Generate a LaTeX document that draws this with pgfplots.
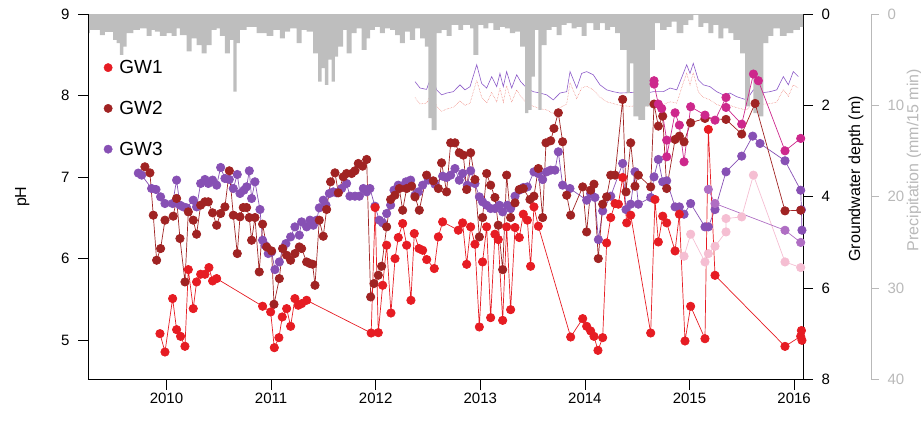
\documentclass[border=0pt]{standalone}
\usepackage{fontspec}
\setmainfont{Liberation Sans}
\usepackage{pgfplots}
\pgfplotsset{compat=1.18}
\definecolor{gwone}{RGB}{230,28,35}
\definecolor{gwtwo}{RGB}{160,35,35}
\definecolor{gwthree}{RGB}{135,80,180}
\definecolor{gwmag}{RGB}{205,40,140}
\definecolor{gwpink}{RGB}{245,190,210}
\definecolor{gworchid}{RGB}{175,110,195}
\definecolor{precbar}{RGB}{190,190,190}
\definecolor{precax}{RGB}{185,185,185}
\definecolor{depthpurple}{RGB}{140,90,200}
\definecolor{depthred}{RGB}{235,110,100}
\pgfplotsset{
  base/.style={at={(88pt,44.5pt)}, anchor=south west, scale only axis,
    width=715pt, height=365.5pt, xmin=2009.25, xmax=2016.085,
    /pgf/number format/assume math mode=true,
    tick label style={font=\fontsize{15}{18}\selectfont},
    label style={font=\fontsize{16}{19}\selectfont},
    tick align=outside, major tick length=10pt,
    tick style={black, line width=0.6pt},
    axis line style={-, line width=0.6pt}},
  ser/.style={mark=*, mark size=4.2pt, line width=0.7pt, color=#1, mark options={solid, fill=#1, draw=#1}},
}
\begin{document}
\begin{tikzpicture}
\path[use as bounding box] (0,0) rectangle (921pt,424pt);
% groundwater depth axis
\begin{axis}[base, ymin=0, ymax=8, y dir=reverse, axis y line*=right, hide x axis,
  ytick={0,2,4,6,8}, yticklabel style={xshift=5pt}, ylabel={Groundwater depth (m)},
  ylabel style={at={(axis description cs:1.074,0.549)}, anchor=center}]
\addplot[depthred, line width=0.5pt, densely dotted] table {
2012.376 1.83
2012.424 1.97
2012.487 1.95
2012.535 1.72
2012.583 2.02
2012.631 2.13
2012.679 2.08
2012.742 2.04
2012.806 1.90
2012.854 2.00
2012.902 1.95
2012.966 1.45
2013.013 1.82
2013.061 1.95
2013.109 1.72
2013.157 1.92
2013.188 1.62
2013.220 1.93
2013.252 1.57
2013.300 1.93
2013.348 1.66
2013.386 1.80
2013.443 1.95
2013.507 2.02
2013.571 2.07
2013.635 2.10
2013.698 2.18
2013.762 2.05
2013.826 1.97
2013.858 1.50
2013.922 1.85
2013.969 1.62
2014.017 1.58
2014.080 1.66
2014.144 1.82
2014.208 1.92
2014.271 1.96
2014.336 2.00
2014.431 2.02
2014.527 2.00
2014.591 2.02
2014.654 1.98
2014.750 1.98
2014.814 1.92
2014.878 1.95
2014.941 1.50
2014.973 1.30
2015.005 1.55
2015.036 1.28
2015.084 1.70
2015.132 1.82
2015.196 1.88
2015.260 1.98
2015.323 2.03
2015.387 2.00
2015.451 2.05
2015.547 2.10
2015.610 1.92
2015.674 1.98
2015.770 1.96
2015.834 1.93
2015.897 1.65
2015.945 1.80
2015.992 1.55
2016.040 1.62
};
\addplot[depthpurple, line width=0.6pt] table {
2012.376 1.48
2012.424 1.62
2012.487 1.65
2012.535 1.33
2012.583 1.66
2012.631 1.77
2012.679 1.73
2012.742 1.70
2012.806 1.55
2012.854 1.66
2012.902 1.59
2012.966 1.11
2013.013 1.52
2013.061 1.62
2013.109 1.37
2013.157 1.59
2013.188 1.30
2013.220 1.59
2013.252 1.26
2013.300 1.62
2013.348 1.33
2013.386 1.48
2013.443 1.62
2013.507 1.70
2013.571 1.73
2013.635 1.77
2013.698 1.88
2013.762 1.73
2013.826 1.70
2013.858 1.26
2013.922 1.62
2013.969 1.30
2014.017 1.26
2014.080 1.33
2014.144 1.55
2014.208 1.66
2014.271 1.70
2014.336 1.73
2014.431 1.72
2014.527 1.70
2014.591 1.73
2014.654 1.70
2014.750 1.70
2014.814 1.62
2014.878 1.66
2014.941 1.30
2014.973 1.11
2015.005 1.30
2015.036 1.08
2015.084 1.44
2015.132 1.55
2015.196 1.59
2015.260 1.70
2015.323 1.77
2015.387 1.73
2015.451 1.81
2015.547 1.88
2015.610 1.66
2015.674 1.73
2015.770 1.70
2015.834 1.66
2015.897 1.37
2015.945 1.55
2015.992 1.26
2016.040 1.37
};
\end{axis}
% precipitation bars
\begin{axis}[base, ymin=0, ymax=40, y dir=reverse, hide axis]
\addplot[const plot, fill=precbar, draw=none] table {
2009.250 2.1
2009.269 1.75
2009.364 2.3
2009.412 1.95
2009.491 2.84
2009.524 3.2
2009.555 4.48
2009.587 3.57
2009.620 2.1
2009.683 1.75
2009.747 1.57
2009.811 2.4
2009.859 1.75
2009.890 1.93
2009.938 2.4
2010.002 2.1
2010.050 2.4
2010.098 1.57
2010.129 2.3
2010.193 4.1
2010.241 2.66
2010.289 3.4
2010.337 4.3
2010.384 3.4
2010.432 1.75
2010.480 1.57
2010.511 2.4
2010.559 4.3
2010.607 2.84
2010.639 8.5
2010.671 3.2
2010.703 1.75
2010.767 1.4
2010.862 2.1
2010.958 2.4
2011.021 1.75
2011.085 2.66
2011.133 1.93
2011.181 1.57
2011.245 3.2
2011.293 1.75
2011.340 1.93
2011.403 4.3
2011.451 7.4
2011.484 5.93
2011.515 7.76
2011.547 5.0
2011.579 7.4
2011.611 4.66
2011.642 3.57
2011.690 1.75
2011.723 4.3
2011.771 2.1
2011.818 1.57
2011.866 3.93
2011.914 2.66
2011.946 1.75
2011.993 1.4
2012.041 2.1
2012.089 1.57
2012.137 1.75
2012.185 2.3
2012.232 3.2
2012.280 1.93
2012.328 2.84
2012.376 1.57
2012.424 2.66
2012.471 3.57
2012.503 11.4
2012.535 12.7
2012.583 2.1
2012.631 1.75
2012.679 2.4
2012.727 1.2
2012.790 1.75
2012.837 1.2
2012.902 1.57
2012.933 4.48
2012.981 1.2
2013.029 1.57
2013.077 1.0
2013.124 1.75
2013.188 1.4
2013.236 1.57
2013.284 2.1
2013.332 1.93
2013.380 3.57
2013.428 10.85
2013.459 10.5
2013.491 6.85
2013.523 1.75
2013.555 10.5
2013.587 3.4
2013.635 1.75
2013.683 1.4
2013.730 2.3
2013.778 1.2
2013.826 1.0
2013.874 1.57
2013.922 1.4
2013.969 2.4
2014.017 1.0
2014.080 1.75
2014.144 1.0
2014.192 1.75
2014.240 1.4
2014.288 2.1
2014.336 3.93
2014.400 8.67
2014.431 5.4
2014.463 11.2
2014.511 11.6
2014.575 10.1
2014.622 3.93
2014.670 1.0
2014.718 1.75
2014.782 1.4
2014.830 0.84
2014.878 2.1
2014.941 1.2
2014.989 0.66
2015.036 0.1
2015.084 1.4
2015.132 1.0
2015.180 2.1
2015.228 1.2
2015.275 2.66
2015.323 1.57
2015.371 2.1
2015.419 2.84
2015.483 4.3
2015.531 10.1
2015.578 6.85
2015.610 10.85
2015.658 11.2
2015.706 3.2
2015.753 2.4
2015.801 1.57
2015.865 2.4
2015.929 2.1
2015.992 1.75
2016.056 1.4
2016.085 1.4
} \closedcycle;
\end{axis}
% precipitation scale
\begin{axis}[base, at={(863pt,44.5pt)}, width=8pt, xmin=0, xmax=1, ymin=0, ymax=40, y dir=reverse,
  axis y line*=right, hide x axis, ytick={0,10,20,30,40}, major tick length=8pt,
  y axis line style={precax}, ytick style={precax},
  yticklabel style={text=precax, xshift=5pt},
  ylabel={Precipitation (mm/15 min)}, ylabel style={text=precax, at={(axis description cs:6.4,0.60)}, anchor=center}]
\end{axis}
% pH axis
\begin{axis}[base, ymin=4.52, ymax=9, axis x line*=bottom, axis y line*=left,
  xtick={2010,2011,2012,2013,2014,2015,2016},
  xticklabels={2010,2011,2012,2013,2014,2015,2016},
  ytick={5,6,7,8,9}, yticklabel style={xshift=-5pt}, ylabel={pH},
  ylabel style={at={(axis description cs:-0.092,0.5)}, anchor=center},
  legend style={at={(axis description cs:0.022,0.8795)}, anchor=north west, draw=none, fill=none,
    font=\fontsize{19}{22}\selectfont, row sep=22pt, inner sep=0pt,
    /tikz/every odd column/.append style={column sep=5pt}},
  legend cell align=left]
\addlegendimage{only marks, mark=*, mark size=4.2pt, gwone}
\addlegendentry{GW1}
\addlegendimage{only marks, mark=*, mark size=4.2pt, gwtwo}
\addlegendentry{GW2}
\addlegendimage{only marks, mark=*, mark size=4.2pt, gwthree}
\addlegendentry{GW3}
\addplot[ser=gwthree] table {
2009.731 7.050
2009.763 7.025
2009.858 6.861
2009.900 6.849
2009.944 6.759
2009.986 6.677
2010.059 6.677
2010.097 6.964
2010.129 6.657
2010.161 6.636
2010.193 6.624
2010.256 6.718
2010.288 6.636
2010.327 6.923
2010.368 6.972
2010.400 6.923
2010.441 6.964
2010.480 6.902
2010.518 7.119
2010.559 6.984
2010.601 6.972
2010.639 6.861
2010.677 7.033
2010.703 6.800
2010.741 6.841
2010.766 6.882
2010.792 7.078
2010.814 6.739
2010.846 6.943
2010.894 6.604
2010.919 6.227
2010.942 6.166
2010.973 6.064
2011.005 6.084
2011.037 5.867
2011.079 5.961
2011.111 6.125
2011.142 6.186
2011.187 6.268
2011.228 6.391
2011.270 6.289
2011.292 6.452
2011.340 6.391
2011.372 6.473
2011.404 6.411
2011.436 6.473
2011.461 6.624
2011.499 6.718
2011.525 6.657
2011.557 6.800
2011.595 6.820
2011.627 6.808
2011.675 6.861
2011.722 6.923
2011.754 6.767
2011.802 6.767
2011.844 6.767
2011.882 6.861
2011.914 6.820
2011.945 6.861
2011.993 6.644
2012.035 6.473
2012.067 6.440
2012.105 6.555
2012.143 6.657
2012.175 6.841
2012.216 6.902
2012.258 6.882
2012.290 6.943
2012.334 6.964
2012.376 6.779
2012.408 6.820
2012.449 6.902
2012.503 6.964
2012.567 6.914
2012.640 7.012
2012.678 6.996
2012.717 7.025
2012.758 7.106
2012.799 6.963
2012.831 7.045
2012.876 6.902
2012.908 7.078
2012.949 6.922
2012.991 6.759
2013.022 6.697
2013.061 6.656
2013.099 6.616
2013.140 6.616
2013.182 6.656
2013.214 6.575
2013.258 6.656
2013.290 6.616
2013.332 6.767
2013.373 6.841
2013.411 6.873
2013.450 6.881
2013.513 7.065
2013.555 7.045
2013.596 6.971
2013.634 7.065
2013.673 7.086
2013.714 7.086
2013.746 7.311
2013.787 6.902
2013.857 6.861
2014.017 6.718
2014.055 6.800
2014.096 6.751
2014.129 6.235
2014.170 6.587
2014.247 6.767
2014.361 7.168
2014.393 6.603
2014.438 6.669
2014.479 7.066
2014.511 6.669
2014.629 6.751
2014.661 7.004
2014.702 7.217
2014.744 6.943
2014.782 6.955
2014.862 6.636
2014.903 6.636
2014.948 6.546
2015.011 6.677
2015.148 6.391
2015.180 6.391
2015.244 6.603
2015.349 7.066
2015.499 7.258
2015.604 7.503
2015.674 7.413
2015.913 7.201
2016.063 6.840
2016.070 6.600
2016.075 6.350
};
\addplot[ser=gwtwo] table {
2009.794 7.127
2009.842 7.053
2009.874 6.534
2009.906 5.982
2009.944 6.125
2009.986 6.473
2010.065 6.522
2010.097 6.739
2010.129 6.248
2010.177 5.716
2010.209 6.575
2010.256 6.473
2010.288 6.301
2010.327 6.657
2010.368 6.698
2010.400 6.698
2010.441 6.563
2010.480 6.411
2010.518 6.555
2010.559 6.636
2010.601 7.078
2010.639 6.534
2010.677 6.064
2010.703 6.514
2010.734 6.628
2010.766 6.628
2010.792 6.505
2010.814 6.227
2010.846 6.505
2010.887 5.839
2010.919 6.424
2010.958 6.145
2011.005 6.096
2011.028 5.442
2011.079 5.757
2011.111 6.125
2011.149 6.043
2011.187 5.982
2011.228 6.064
2011.270 6.145
2011.292 6.125
2011.340 5.961
2011.372 5.941
2011.397 5.933
2011.420 5.675
2011.461 6.473
2011.499 6.276
2011.531 6.604
2011.569 6.943
2011.611 7.053
2011.643 6.808
2011.690 7.004
2011.722 7.045
2011.770 7.045
2011.802 7.078
2011.834 7.168
2011.875 7.135
2011.914 7.217
2011.952 5.532
2011.984 5.696
2012.025 5.798
2012.057 5.908
2012.105 6.391
2012.143 6.726
2012.184 6.779
2012.226 6.861
2012.258 6.595
2012.296 6.861
2012.344 6.890
2012.376 6.759
2012.417 6.595
2012.487 7.025
2012.551 6.955
2012.599 6.861
2012.630 7.176
2012.678 6.820
2012.717 7.421
2012.758 7.421
2012.799 7.299
2012.838 7.270
2012.870 6.849
2012.908 7.299
2012.949 6.971
2012.991 6.268
2013.022 6.505
2013.061 7.045
2013.099 6.902
2013.140 6.751
2013.172 6.411
2013.214 5.867
2013.252 7.025
2013.290 6.505
2013.332 6.685
2013.373 6.849
2013.411 6.861
2013.475 6.726
2013.513 6.767
2013.555 7.106
2013.596 6.505
2013.628 7.421
2013.673 7.446
2013.704 7.597
2013.746 7.789
2013.787 7.434
2013.826 6.779
2013.864 6.534
2013.979 6.881
2014.017 6.329
2014.055 6.841
2014.087 6.914
2014.128 6.002
2014.170 6.669
2014.208 6.759
2014.247 7.025
2014.288 7.025
2014.361 7.953
2014.393 6.820
2014.438 7.421
2014.479 6.889
2014.511 7.025
2014.629 6.881
2014.661 7.896
2014.702 7.626
2014.744 7.748
2014.782 6.861
2014.862 7.462
2014.903 7.503
2014.948 7.433
2015.011 7.667
2015.148 7.720
2015.349 7.708
2015.499 7.528
2015.627 7.904
2015.913 6.587
2016.063 6.595
};
\addplot[ser=gwone] table {
2009.938 5.082
2009.986 4.857
2010.059 5.512
2010.097 5.131
2010.135 5.049
2010.177 4.927
2010.209 5.867
2010.256 5.389
2010.288 5.716
2010.327 5.810
2010.368 5.810
2010.406 5.892
2010.441 5.728
2010.480 5.757
2010.919 5.418
2010.996 5.348
2011.031 4.910
2011.075 5.033
2011.107 5.287
2011.149 5.389
2011.187 5.172
2011.228 5.512
2011.260 5.430
2011.292 5.450
2011.340 5.491
2011.957 5.090
2011.995 6.628
2012.025 5.094
2012.067 5.675
2012.105 6.166
2012.146 5.335
2012.185 6.002
2012.216 6.260
2012.258 6.432
2012.296 6.166
2012.337 5.491
2012.369 6.309
2012.414 6.125
2012.449 6.104
2012.488 5.990
2012.560 5.880
2012.599 6.268
2012.640 6.452
2012.790 6.350
2012.831 6.440
2012.870 5.932
2012.908 6.391
2012.949 6.178
2012.991 5.164
2013.022 5.961
2013.061 6.391
2013.099 5.278
2013.140 6.301
2013.172 6.235
2013.214 5.245
2013.252 6.391
2013.290 5.376
2013.332 6.383
2013.373 6.260
2013.411 6.546
2013.450 6.473
2013.481 5.908
2013.513 6.636
2013.555 6.399
2013.864 5.041
2013.979 5.266
2014.017 5.172
2014.055 5.115
2014.087 5.049
2014.125 4.877
2014.170 5.033
2014.208 6.194
2014.247 6.505
2014.288 6.677
2014.320 6.669
2014.361 6.996
2014.400 6.440
2014.438 6.534
2014.629 5.090
2014.670 6.726
2014.702 6.206
2014.744 6.522
2014.782 6.440
2014.862 6.096
2014.903 6.546
2014.957 4.992
2015.011 5.417
2015.148 5.020
2015.180 7.585
2015.244 5.797
2015.913 4.926
2016.063 5.050
2016.070 5.120
2016.075 5.000
};
\addplot[ser=gwpink] table {
2014.948 6.031
2015.011 6.301
2015.148 5.961
2015.180 6.063
2015.244 6.153
2015.349 6.329
2015.349 6.493
2015.499 6.513
2015.611 7.025
2015.913 5.961
2016.063 5.892
};
\addplot[ser=gworchid] table {
2015.180 6.850
2015.244 6.677
2015.913 6.349
2016.063 6.200
};
\addplot[ser=gwmag] table {
2014.661 8.182
2014.661 8.141
2014.702 7.896
2014.734 7.842
2014.782 7.454
2014.782 7.250
2014.862 7.789
2014.903 7.638
2014.948 7.188
2015.011 7.863
2015.148 7.761
2015.244 7.699
2015.349 7.977
2015.349 7.855
2015.499 7.650
2015.611 8.264
2015.658 8.182
2015.913 7.323
2016.063 7.475
};
\end{axis}
\end{tikzpicture}
\end{document}
